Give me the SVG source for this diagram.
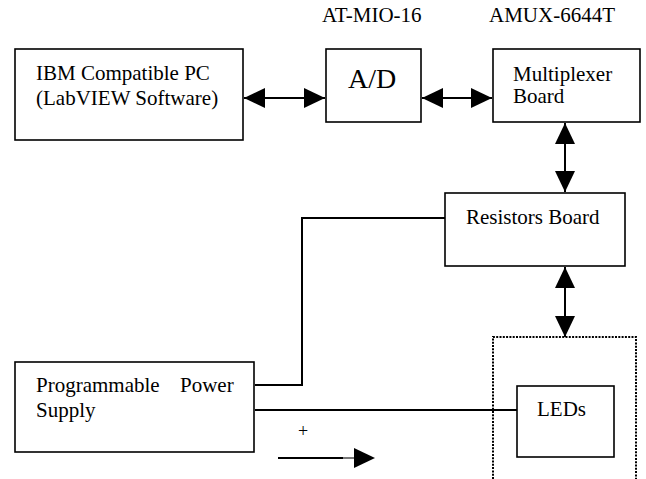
<svg xmlns="http://www.w3.org/2000/svg" width="646" height="479" viewBox="0 0 646 479">
<defs>
<marker id="ah" markerUnits="userSpaceOnUse" markerWidth="21" markerHeight="20" refX="21" refY="10" orient="auto-start-reverse">
<path d="M0,0 L21,10 L0,20 Z" fill="#000"/>
</marker>
<style>
.box{fill:#fff;stroke:#000;stroke-width:1.6}
.t{font-family:"Liberation Serif","Times New Roman",serif;font-size:21px;fill:#000}
.ln{fill:none;stroke:#000;stroke-width:2}
.arr{fill:none;stroke:#000;stroke-width:2;marker-start:url(#ah);marker-end:url(#ah)}
</style>
</defs>
<rect width="646" height="479" fill="#fff"/>
<g id="labels">
<text class="t" x="322" y="22">AT-MIO-16</text>
<text class="t" x="489" y="22">AMUX-6644T</text>
</g>
<g id="dotted-region">
<path d="M493,479 V337 H636 V479" fill="none" stroke="#000" stroke-width="2" stroke-dasharray="2,1.3"/>
</g>
<g id="connectors">
<line class="arr" x1="244" y1="98" x2="325" y2="98"/>
<line class="arr" x1="422" y1="98" x2="492" y2="98"/>
<line class="arr" x1="565" y1="123" x2="565" y2="192"/>
<line class="arr" x1="565" y1="267" x2="565" y2="337"/>
<polyline class="ln" points="445,218 302,218 302,385 255,385"/>
<line class="ln" x1="255" y1="410" x2="519" y2="410"/>
<line class="ln" x1="278" y1="458" x2="343" y2="458"/>
<line x1="343" y1="458" x2="354" y2="458" stroke="#777" stroke-width="2"/>
<path d="M354,448 L375,458 L354,468 Z" fill="#000"/>
<text class="t" x="303" y="437" text-anchor="middle" style="font-size:18px">+</text>
</g>
<g id="ibm-pc">
<rect class="box" x="15" y="49" width="228" height="91"/>
<text class="t" x="36" y="80">IBM Compatible PC</text>
<text class="t" x="36" y="105">(LabVIEW Software)</text>
</g>
<g id="ad">
<rect class="box" x="326" y="49" width="95" height="73"/>
<text class="t" x="348" y="88" style="font-size:28px">A/D</text>
</g>
<g id="multiplexer">
<rect class="box" x="493" y="49" width="147" height="73"/>
<text class="t" x="513" y="81">Multiplexer</text>
<text class="t" x="513" y="103">Board</text>
</g>
<g id="resistors">
<rect class="box" x="445" y="193" width="180" height="73"/>
<text class="t" x="466" y="224">Resistors Board</text>
</g>
<g id="power-supply">
<rect class="box" x="15" y="362" width="239" height="90"/>
<text class="t" x="36" y="392">Programmable</text>
<text class="t" x="180" y="392">Power</text>
<text class="t" x="36" y="417">Supply</text>
</g>
<g id="leds">
<rect class="box" x="517" y="386" width="97" height="71"/>
<text class="t" x="537" y="416">LEDs</text>
</g>
</svg>
